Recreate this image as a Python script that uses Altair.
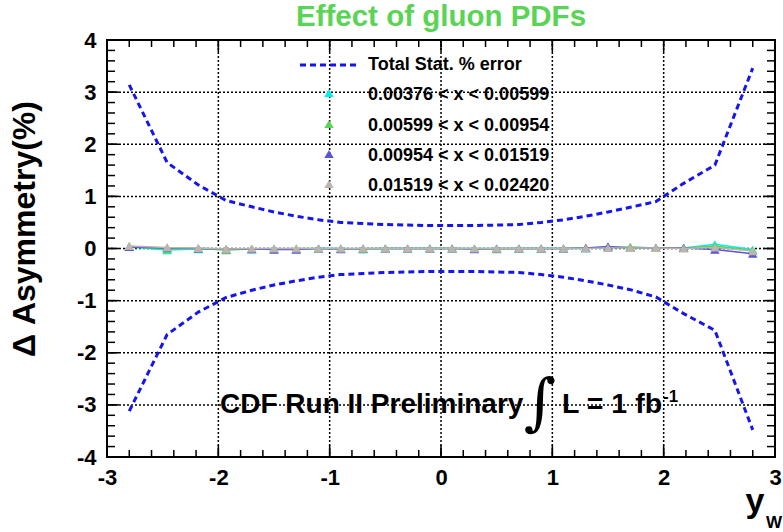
import altair as alt
import numpy as np
import pandas as pd

# rapidity bins of the W boson
y_bins = [-2.8, -2.46, -2.18, -1.93, -1.7, -1.5, -1.3, -1.1, -0.9, -0.7, -0.5, -0.3, -0.1,
          0.1, 0.3, 0.5, 0.7, 0.9, 1.1, 1.3, 1.5, 1.7, 1.93, 2.18, 2.46, 2.8]

# total statistical error band (%)
stat_up = [3.14, 1.65, 1.22, 0.92, 0.80, 0.70, 0.62, 0.55, 0.50, 0.48, 0.46, 0.45, 0.44,
           0.44, 0.44, 0.45, 0.46, 0.50, 0.55, 0.62, 0.70, 0.79, 0.90, 1.25, 1.60, 3.46]
stat_dn = [-3.12, -1.65, -1.22, -0.94, -0.80, -0.70, -0.62, -0.55, -0.50, -0.48, -0.46, -0.45, -0.44,
           -0.44, -0.44, -0.45, -0.46, -0.50, -0.55, -0.62, -0.70, -0.79, -0.93, -1.25, -1.57, -3.48]

# change of the asymmetry for each gluon x range (%)
series_labels = ["0.00376 < x < 0.00599", "0.00599 < x < 0.00954",
                 "0.00954 < x < 0.01519", "0.01519 < x < 0.02420"]
series_colors = ["#00f0f0", "#59d454", "#5954d9", "#bdb5aa"]
d_cyan = [0.03, -0.03, -0.01, -0.02, -0.01, 0.0, -0.01, 0.0, 0.0, -0.01, 0.0, 0.0, 0.0,
          0.0, 0.0, 0.0, 0.0, 0.0, 0.0, 0.0, 0.02, 0.02, 0.01, 0.01, 0.08, -0.02]
d_green = [0.04, -0.01, 0.0, -0.03, -0.01, -0.01, 0.0, 0.0, 0.0, -0.01, 0.0, 0.0, 0.0,
           0.0, 0.0, -0.01, 0.0, 0.0, 0.0, 0.01, 0.02, 0.03, 0.01, 0.01, 0.05, -0.04]
d_blue = [0.03, 0.01, 0.0, -0.01, -0.01, -0.02, -0.02, 0.0, -0.01, 0.0, 0.0, 0.0, 0.0,
          0.0, -0.01, 0.0, 0.0, 0.0, 0.0, 0.01, 0.04, 0.01, 0.01, 0.01, -0.02, -0.10]
d_gray = [0.05, 0.02, 0.01, -0.01, 0.0, 0.0, 0.0, 0.0, 0.0, 0.0, 0.0, 0.0, 0.0,
          0.0, 0.0, 0.0, 0.0, 0.0, 0.0, 0.0, 0.01, 0.01, 0.01, 0.0, 0.02, -0.05]
series_values = [d_cyan, d_green, d_blue, d_gray]

x_ticks = [-3, -2, -1, 0, 1, 2, 3]
y_ticks = [-4, -3, -2, -1, 0, 1, 2, 3, 4]

W, H = 668, 417
FONT = "Liberation Sans"
STAT_BLUE = "#1515f0"

xs = alt.Scale(domain=[-3, 3], nice=False, zero=False)
ys = alt.Scale(domain=[-4, 4], nice=False, zero=False)

# plain hyphen for negative labels
hyphen = "datum.value < 0 ? '-' + abs(datum.value) : '' + datum.value"
axis_style = dict(grid=False, ticks=False, domain=False, labelFont=FONT, labelFontWeight="bold",
                  labelFontSize=22, labelColor="black", title=None, labelExpr=hyphen)
x_axis = alt.Axis(values=x_ticks, labelPadding=10, labelFlush=False, **axis_style)
y_axis = alt.Axis(values=y_ticks, labelPadding=11, **axis_style)

# dotted grid at the major divisions
grid_x = pd.DataFrame({"t": x_ticks[1:-1]})
grid_y = pd.DataFrame({"t": y_ticks[1:-1]})
gx = alt.Chart(grid_x).mark_rule(
    color="#000000", strokeWidth=1.5, strokeDash=[2, 2], opacity=1
).encode(x=alt.X("t:Q", scale=xs), y=alt.value(0), y2=alt.value(H))
gy = alt.Chart(grid_y).mark_rule(
    color="#000000", strokeWidth=1.5, strokeDash=[2, 2], opacity=1
).encode(y=alt.Y("t:Q", scale=ys), x=alt.value(0), x2=alt.value(W))

# error band as two dashed curves
band = pd.concat([
    pd.DataFrame({"yw": y_bins, "v": stat_up, "side": "up"}),
    pd.DataFrame({"yw": y_bins, "v": stat_dn, "side": "down"}),
])
band_layer = alt.Chart(band).mark_line(
    color=STAT_BLUE, strokeWidth=3, strokeDash=[6, 4]
).encode(
    x=alt.X("yw:Q", scale=xs, axis=x_axis),
    y=alt.Y("v:Q", scale=ys, axis=y_axis),
    detail="side:N",
)

# per-x-range curves: line then markers, drawn one range after another
series_layers = []
for lab, col, vals in zip(series_labels, series_colors, series_values):
    df = pd.DataFrame({"yw": y_bins, "v": vals})
    base = alt.Chart(df).encode(x=alt.X("yw:Q", scale=xs), y=alt.Y("v:Q", scale=ys))
    series_layers.append(base.mark_line(color=col, strokeWidth=1.5))
    series_layers.append(base.mark_point(shape="triangle-up", filled=True, size=90,
                                         color=col, opacity=1))

# inward ticks on all four sides of the frame
minor = np.round(np.arange(-3, 3.0001, 0.2), 2)
minor_y = np.round(np.arange(-4, 4.0001, 0.2), 2)
tx_major = pd.DataFrame({"t": x_ticks})
tx_minor = pd.DataFrame({"t": minor})
ty_major = pd.DataFrame({"t": y_ticks})
ty_minor = pd.DataFrame({"t": minor_y})

def xtick(df, length):
    bottom = alt.Chart(df).mark_rule(color="black", strokeWidth=1.5).encode(
        x=alt.X("t:Q", scale=xs), y=alt.value(H), y2=alt.value(H - length))
    top = alt.Chart(df).mark_rule(color="black", strokeWidth=1.5).encode(
        x=alt.X("t:Q", scale=xs), y=alt.value(0), y2=alt.value(length))
    return [bottom, top]

def ytick(df, length):
    left = alt.Chart(df).mark_rule(color="black", strokeWidth=1.5).encode(
        y=alt.Y("t:Q", scale=ys), x=alt.value(0), x2=alt.value(length))
    right = alt.Chart(df).mark_rule(color="black", strokeWidth=1.5).encode(
        y=alt.Y("t:Q", scale=ys), x=alt.value(W), x2=alt.value(W - length))
    return [left, right]

tick_layers = xtick(tx_minor, 7) + xtick(tx_major, 12) + ytick(ty_minor, 8) + ytick(ty_major, 12)

# legend
leg_rows = [53, 84, 114, 144]
leg_df = pd.DataFrame({"label": series_labels, "color": series_colors, "row": leg_rows})
leg_df_text = pd.DataFrame({"label": ["Total Stat. % error"] + series_labels,
                            "row": [25] + [r + 2 for r in leg_rows]})
color_scale = alt.Scale(domain=series_labels, range=series_colors)
leg_line = alt.Chart(pd.DataFrame({"k": [0]})).mark_rule(
    color=STAT_BLUE, strokeWidth=3, strokeDash=[6, 4]
).encode(x=alt.value(193), x2=alt.value(250), y=alt.value(25))
leg_marks = alt.Chart(leg_df).mark_point(shape="triangle-up", filled=True, size=90, opacity=1).encode(
    x=alt.value(222), y=alt.Y("row:Q", scale=None),
    color=alt.Color("label:N", scale=color_scale, legend=None))
leg_text = alt.Chart(leg_df_text).mark_text(
    align="left", baseline="middle", font=FONT, fontWeight="bold", fontSize=18, color="black"
).encode(x=alt.value(261), y=alt.Y("row:Q", scale=None), text="label:N")

def label(txt, x, y, size, color="black", align="center", baseline="middle", angle=0,
          font=FONT, weight="bold"):
    return alt.Chart(pd.DataFrame({"s": [txt]})).mark_text(
        align=align, baseline=baseline, font=font, fontWeight=weight, fontSize=size,
        color=color, angle=angle
    ).encode(x=alt.value(x), y=alt.value(y), text="s:N")

texts = [
    label("Effect of gluon PDFs", W / 2, -23, 29.5, color="#59d454"),
    label("\u0394 Asymmetry(%)", -82, 189, 32, angle=270),
    label("y", 648, 472, 34, align="center", baseline="alphabetic"),
    label("W", 667, 488, 17, align="center", baseline="alphabetic"),
    label("CDF Run II Preliminary", 113, 373, 28, align="left", baseline="alphabetic"),
    label("\u222b", 433, 383, 62, align="center", baseline="alphabetic",
          font="DejaVu Serif", weight="normal"),
    label("L = 1 fb", 455, 373, 28.5, align="left", baseline="alphabetic"),
    label("-1", 556, 362, 17, align="left", baseline="alphabetic"),
]

chart = alt.layer(
    gx, gy, band_layer, *series_layers, *tick_layers, leg_line, leg_marks, leg_text, *texts
).properties(
    width=W, height=H,
    autosize=alt.AutoSizeParams(type="none"),
    padding={"left": 107, "top": 40, "right": 8, "bottom": 75},
    background="white",
).configure_view(stroke="black", strokeWidth=2)

chart.save("out.html", embed_options={"renderer": "svg", "actions": False})
